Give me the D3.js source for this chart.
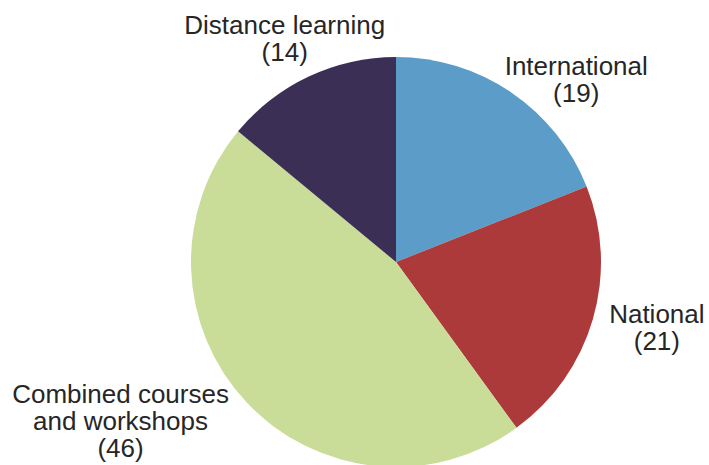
<!DOCTYPE html>
<html>
<head>
<meta charset="utf-8">
<script src="https://cdn.jsdelivr.net/npm/d3@7"></script>
<style>
  html, body { margin: 0; padding: 0; background: #fff; }
  svg { display: block; }
  .pie-label { font-family: "Liberation Sans", Arial, sans-serif; font-size: 26px; fill: #262626; }
</style>
</head>
<body>
<svg id="chart" width="709" height="465"></svg>
<script>
// data, clockwise from 12 o'clock
const categories = ['International', 'National', 'Combined courses and workshops', 'Distance learning']
const values = [19, 21, 46, 14]
const labelLines = [
    ['International'],
    ['National'],
    ['Combined courses', 'and workshops'],
    ['Distance learning']
]
const colors = ['#5b9cc8', '#ad3a3b', '#c9dc98', '#3c2f55']

// layout of the text blocks relative to each slice's outer edge point
const labelNudge = [
    { dx: 65, dy: -17 },
    { dx: 64, dy: 4 },
    { dx: -126, dy: 1 },
    { dx: -24, dy: -43 }
]

const width = 709
const height = 465
const cx = 396
const cy = 262
const radius = 205
const lineHeight = 27

const svg = d3.select('#chart')
const g = svg.append('g')
    .attr('transform', `translate(${cx}, ${cy})`)

const pie = d3.pie()
    .sort(null)
    .value(d => d.value)

const slices = pie(categories.map((c, i) => ({ name: c, value: values[i], idx: i })))

const arc = d3.arc()
    .innerRadius(0)
    .outerRadius(radius)

g.selectAll('path.slice')
    .data(slices)
    .enter()
    .append('path')
    .attr('class', 'slice')
    .attr('d', arc)
    .attr('fill', d => colors[d.data.idx])

const edgeArc = d3.arc()
    .innerRadius(radius)
    .outerRadius(radius)

const labels = g.selectAll('text.pie-label')
    .data(slices)
    .enter()
    .append('text')
    .attr('class', 'pie-label')
    .attr('text-anchor', 'middle')
    .attr('transform', d => {
        const [x, y] = edgeArc.centroid(d)
        const n = labelNudge[d.data.idx]
        return `translate(${x + n.dx}, ${y + n.dy})`
    })

labels.each(function (d) {
    const t = d3.select(this)
    const lines = labelLines[d.data.idx].concat([`(${d.data.value})`])
    lines.forEach((line, i) => {
        t.append('tspan')
            .attr('x', 0)
            .attr('y', i * lineHeight)
            .text(line)
    })
})
</script>
</body>
</html>
